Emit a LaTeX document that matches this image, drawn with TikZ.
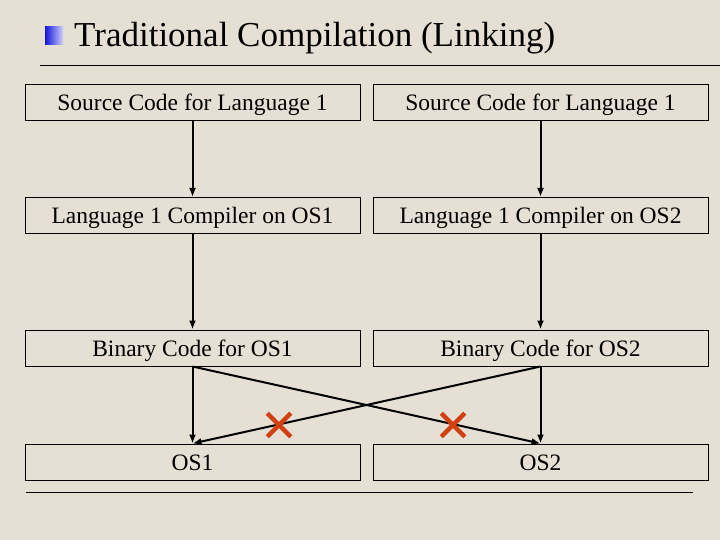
\documentclass[tikz,border=0pt]{standalone}
\usepackage{fontspec}
\setmainfont{Liberation Serif}
\usetikzlibrary{arrows.meta,shapes.misc}
\definecolor{bg}{RGB}{230,224,212}
\definecolor{crossred}{RGB}{208,64,16}
\definecolor{iconblue}{RGB}{20,20,220}
\tikzset{
  box/.style={draw=black, line width=1pt, minimum width=335pt, minimum height=36pt, inner sep=0pt, text height=20pt, text depth=3pt, font=\fontsize{23.5}{28}\selectfont},
  conn/.style={line width=2pt, -{Latex[length=9pt,width=7pt]}},
  xmark/.style={cross out, draw=crossred, line width=4.5pt, minimum size=19pt, inner sep=0pt},
  rule/.style={line width=1pt}
}
\begin{document}
\begin{tikzpicture}[x=1pt,y=-1pt]
\fill[bg] (0,0) rectangle (720,540);
\useasboundingbox (0,0) rectangle (720,540);
% title
\shade[left color=iconblue, right color=white!80!iconblue] (45,27) rectangle (63,45);
\node[anchor=base west, inner sep=0pt, font=\fontsize{35}{40}\selectfont] (title) at (74,47) {Traditional Compilation (Linking)};
\coordinate (t1) at (40,66);
\coordinate (t2) at (720,66);
\draw[rule] (t1) -- (t2);
% boxes
\node[box] (s1) at (192.5,102.5) {Source Code for Language 1};
\node[box] (s2) at (540.5,102.5) {Source Code for Language 1};
\node[box] (c1) at (192.5,215.5) {Language 1 Compiler on OS1};
\node[box] (c2) at (540.5,215.5) {Language 1 Compiler on OS2};
\node[box] (b1) at (192.5,348) {Binary Code for OS1};
\node[box] (b2) at (540.5,348) {Binary Code for OS2};
\node[box] (o1) at (192.5,462) {OS1};
\node[box] (o2) at (540.5,462) {OS2};
% connectors
\draw[conn] (s1.south) -- (c1.north);
\draw[conn] (s2.south) -- (c2.north);
\draw[conn] (c1.south) -- (b1.north);
\draw[conn] (c2.south) -- (b2.north);
\draw[conn] (b1.south) -- (o1.north);
\draw[conn] (b2.south) -- (o2.north);
\draw[conn] (b1.south) -- (o2.north);
\draw[conn] (b2.south) -- (o1.north);
% crosses
\node[xmark] (x1) at (279,425) {};
\node[xmark] (x2) at (453,425) {};
% bottom rule
\coordinate (r1) at (26,492);
\coordinate (r2) at (693,492);
\draw[rule] (r1) -- (r2);
\end{tikzpicture}
\end{document}
